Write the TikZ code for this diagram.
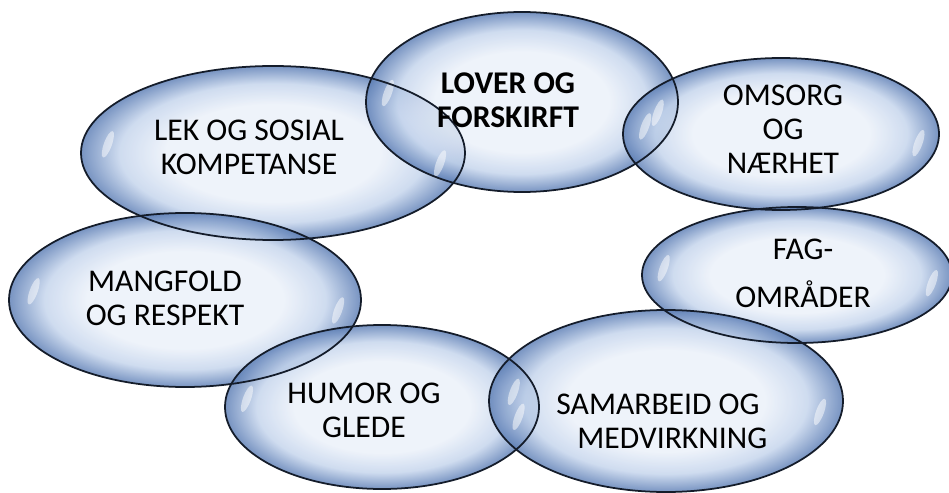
\documentclass[tikz,border=0pt]{standalone}
\usepackage{fontspec}
\setmainfont{Carlito}
\usetikzlibrary{shapes.geometric}

\definecolor{bubin}{RGB}{234,240,249}
\definecolor{bubmid}{RGB}{196,212,236}
\definecolor{bubout}{RGB}{90,124,180}
\definecolor{rimline}{RGB}{20,28,42}

\pgfdeclareradialshading{bubble}{\pgfpoint{0bp}{0bp}}{color(0bp)=(bubin); color(14bp)=(bubin); color(20bp)=(bubmid); color(25bp)=(bubout); color(50bp)=(bubout)}

\newcommand\bubblefont{\fontsize{18pt}{19.4pt}\selectfont}

\tikzset{
  bubblefill/.style={ellipse, inner sep=0pt, shading=bubble, fill opacity=.82},
  bubblerim/.style={draw=rimline, line width=1pt},
  shine/.style={white, fill opacity=.5},
  caption/.style={align=center, inner sep=0pt, text=black, font=\bubblefont}
}

% name/x/y/x radius/y radius (pixels)
\def\bubbles{lek/273/153/192/87, lover/522/102/156/90, omsorg/781/134/158/76,
  fag/797/275/155/68, mangfold/185/300/176/87, humor/382/407/157/82,
  samarbeid/666/401/177/91}

\begin{document}
\begin{tikzpicture}[x=0.02cm, y=-0.02cm]
\clip (0,0) rectangle (949,493);
% the bubbles
\foreach \nm/\cx/\cy/\rx/\ry in \bubbles
  \node[bubblefill, minimum width={0.04cm*\rx}, minimum height={0.04cm*\ry}] (\nm) at (\cx,\cy) {};
% shine at both ends
\foreach \nm/\cx/\cy/\rx/\ry in \bubbles {
  \fill[shine, shift={({\cx-0.86*\rx},{\cy-0.1*\ry})}, rotate=-20] (0,0) ellipse [x radius=4, y radius=14];
  \fill[shine, shift={({\cx+0.87*\rx},{\cy+0.12*\ry})}, rotate=-20] (0,0) ellipse [x radius=4, y radius=14];
}
% rims on top
\foreach \nm/\cx/\cy/\rx/\ry in \bubbles
  \draw[bubblerim] (\nm.center) ellipse [x radius=\rx, y radius=\ry];
% texts
\node[caption, font=\bubblefont\bfseries] (lovertext) at (508,100) {LOVER OG\\FORSKIRFT};
\node[caption] (lektext) at (249,147) {LEK OG SOSIAL\\KOMPETANSE};
\node[caption] (omsorgtext) at (783,129) {OMSORG\\OG\\NÆRHET};
\node[caption] (fagtext) at (803,273) {FAG-\\[0.28cm]OMRÅDER};
\node[caption] (mangfoldtext) at (165,298) {MANGFOLD\\OG RESPEKT};
\node[caption] (humortext) at (364,410) {HUMOR OG\\GLEDE};
\node[caption] (samarbeidtext) at (658,421) {SAMARBEID OG\\\hspace*{0.9em}MEDVIRKNING};
\end{tikzpicture}
\end{document}
